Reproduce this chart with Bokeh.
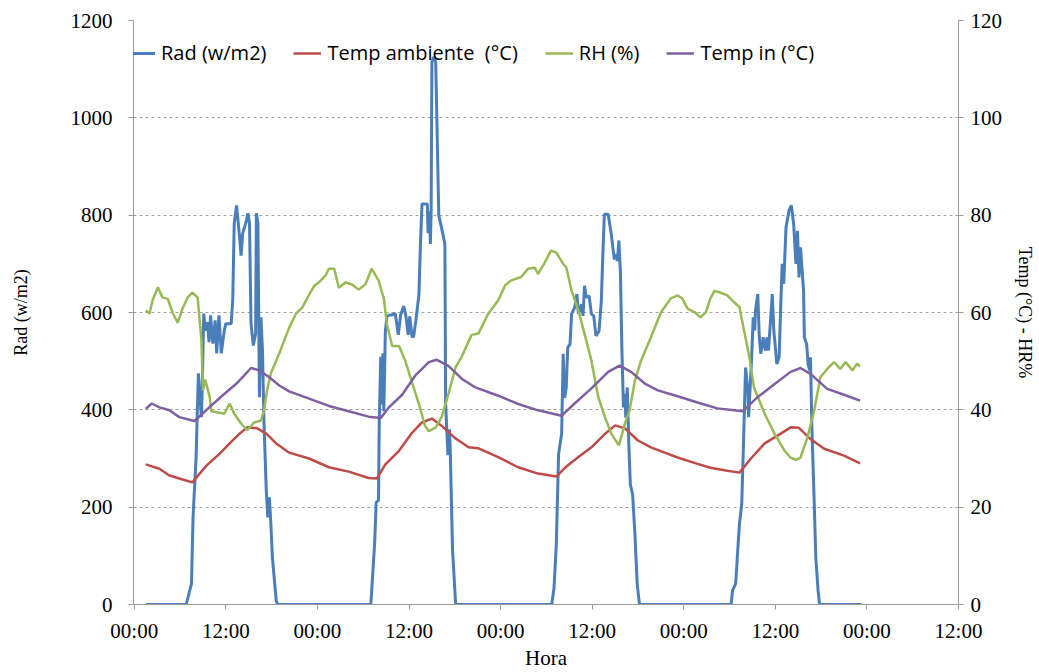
from bokeh.plotting import figure
from bokeh.models import (Range1d, LinearAxis, FixedTicker, Legend, LegendItem,
                          ColumnDataSource)
from bokeh.embed import file_html
from bokeh.resources import INLINE

# ---------------- data (hours from first 00:00) ----------------
rad_h = [1.5, 6.8, 7.5, 7.7, 8.1, 8.4, 8.6, 8.8, 8.9, 9.1, 9.3, 9.6, 9.8, 10.0, 10.3, 10.6, 10.8,
         11.1, 11.4, 11.8, 12.0, 12.7, 12.9, 13.1, 13.4, 13.8, 14.0, 14.2, 14.6, 14.9, 15.1, 15.3,
         15.6, 15.9, 16.0, 16.2, 16.4, 16.6, 16.8, 17.0, 17.3, 17.5, 17.7, 17.9, 18.1, 18.6, 18.8,
         31.0, 31.5, 31.7, 32.0, 32.1, 32.3, 32.4, 32.6, 32.7, 32.9, 33.1, 33.4, 33.8, 34.2, 34.6,
         34.9, 35.3, 35.6, 35.9, 36.1, 36.4, 36.6, 36.9, 37.3, 37.5, 37.7, 38.4, 38.5, 38.7, 38.8,
         38.9, 39.0, 39.2, 39.5, 39.9, 40.3, 40.7, 40.8, 41.1, 41.3, 41.4, 41.7, 42.1, 42.2,
         54.7, 55.0, 55.3, 55.6, 56.0, 56.2, 56.4, 56.6, 56.8, 57.1, 57.3, 57.7, 58.0, 58.2, 58.6,
         58.8, 59.0, 59.2, 59.6, 59.9, 60.2, 60.5, 60.9, 61.2, 61.4, 61.6, 62.1, 62.5, 62.9, 63.1,
         63.3, 63.5, 63.7, 63.9, 64.1, 64.3, 64.4, 64.6, 64.8, 65.0, 65.3, 65.6, 65.9, 66.2,
         78.2, 78.4, 78.8, 79.3, 79.6, 79.8, 80.1, 80.4, 80.5, 80.7, 80.9, 81.1, 81.3, 81.4, 81.7,
         81.9, 82.1, 82.4, 82.7, 82.9, 83.1, 83.4, 83.6, 83.8, 84.2, 84.5, 84.7, 84.9, 85.1, 85.4,
         85.8, 86.1, 86.4, 86.7, 86.9, 87.1, 87.3, 87.7, 87.8, 88.1, 88.3, 88.5, 88.6, 88.8, 89.1,
         89.3, 89.6, 89.8, 95.3]
rad_v = [0, 0, 43, 179, 302, 475, 426, 385, 440, 598, 563, 580, 539, 594, 536, 584, 516,
         594, 516, 563, 577, 577, 625, 783, 820, 755, 717, 762, 783, 804, 783, 577,
         532, 557, 804, 783, 426, 590, 522, 372, 234, 179, 220, 166, 97, 8, 0,
         0, 127, 210, 214, 374, 509, 411, 516, 397, 561, 592, 595, 595, 598, 554,
         595, 613, 592, 554, 592, 550, 550, 584, 636, 741, 823, 823, 763, 808, 741,
         808, 1114, 1125, 1114, 800, 771, 741, 412, 307, 360, 322, 113, 4, 0,
         0, 34, 124, 309, 351, 515, 425, 446, 528, 535, 597, 610, 638, 597, 617,
         593, 655, 631, 634, 597, 593, 552, 562, 624, 720, 802, 802, 761, 709, 720,
         706, 748, 683, 521, 405, 433, 384, 446, 330, 247, 226, 145, 42, 0,
         0, 29, 43, 166, 207, 316, 487, 440, 385, 446, 508, 590, 563, 604, 638,
         549, 515, 549, 522, 549, 522, 590, 638, 563, 494, 508, 611, 700, 659, 775,
         810, 820, 782, 700, 768, 672, 734, 645, 549, 535, 494, 481, 508, 358, 207,
         97, 29, 0, 0]

tamb_h = [1.5, 3.3, 4.6, 5.9, 7.6, 9.5, 11.2, 12.5, 13.8, 14.8, 16.1, 17.3, 18.6, 20.3, 22.9,
          25.5, 28.1, 30.7, 31.8, 32.9, 34.6, 36.3, 37.7, 39.0, 40.3, 42.1, 43.8, 45.1, 47.7,
          50.3, 52.9, 55.3, 56.5, 58.2, 59.9, 61.7, 63.0, 64.3, 66.0, 67.7, 69.5, 71.2, 73.8,
          75.5, 77.7, 79.3, 80.8, 82.6, 84.3, 86.0, 87.1, 88.6, 90.4, 93.0, 95.1]
tamb_v = [28.8, 27.9, 26.5, 25.9, 25.1, 28.6, 31.0, 33.1, 35.1, 36.4, 36.2, 35.1, 33.1, 31.2, 30.0,
          28.2, 27.3, 26.0, 25.9, 28.8, 31.4, 35.1, 37.4, 38.2, 36.7, 34.1, 32.3, 32.1, 30.3,
          28.2, 26.9, 26.3, 28.2, 30.3, 32.3, 35.1, 36.8, 36.2, 33.7, 32.3, 31.2, 30.2, 28.9,
          28.1, 27.5, 27.1, 30.0, 33.1, 34.7, 36.4, 36.3, 34.0, 32.0, 30.6, 29.0]

rh_h = [1.5, 2.0, 2.4, 3.1, 3.7, 4.4, 5.0, 5.7, 6.3, 7.0, 7.6, 8.3, 8.8, 9.0, 9.3, 9.9, 10.1,
        11.2, 11.8, 12.5, 13.1, 14.0, 14.8, 15.7, 16.6, 17.0, 17.4, 17.9, 19.0, 20.3, 21.2, 22.0,
        22.9, 23.6, 24.2, 25.1, 25.5, 26.2, 26.8, 27.7, 28.6, 29.4, 30.3, 31.1, 32.0, 32.7, 33.1,
        33.8, 34.7, 35.5, 36.4, 37.3, 38.1, 38.6, 39.5, 40.3, 41.2, 42.1, 42.9, 44.2, 45.1, 46.4,
        47.7, 48.6, 49.4, 50.7, 51.6, 52.5, 52.9, 53.8, 54.6, 55.3, 56.2, 56.6, 57.3, 58.2, 59.0,
        59.9, 60.8, 61.7, 62.5, 63.5, 64.3, 64.9, 65.6, 66.4, 67.7, 69.0, 70.3, 71.2, 71.8, 72.5,
        73.4, 74.2, 74.9, 75.5, 76.0, 76.8, 77.7, 78.6, 79.3, 79.9, 80.6, 81.2, 82.6, 83.9, 85.2,
        86.0, 86.7, 87.3, 88.2, 89.1, 89.9, 90.8, 91.7, 92.5, 93.2, 94.1, 94.7, 95.1]
rh_v = [60.4, 59.8, 62.5, 65.2, 63.1, 62.8, 60.0, 57.9, 60.7, 63.1, 64.1, 63.1, 54.3, 44.0, 46.2, 42.5, 39.7,
        39.4, 39.2, 41.3, 39.2, 37.2, 35.8, 37.4, 37.8, 39.9, 44.0, 47.5, 51.6, 56.9, 59.8, 61.0,
        63.6, 65.5, 66.2, 67.7, 69.0, 69.0, 65.1, 66.2, 65.7, 64.7, 65.8, 69.0, 66.6, 62.9, 57.6,
        53.1, 53.1, 50.1, 45.6, 41.2, 36.7, 35.6, 36.4, 38.6, 43.5, 48.7, 50.9, 55.4, 55.7, 59.8,
        62.5, 65.6, 66.6, 67.3, 69.0, 69.2, 67.9, 70.3, 72.7, 72.3, 70.0, 69.3, 64.5, 60.4, 55.6,
        50.1, 42.6, 38.4, 35.1, 32.7, 37.2, 39.9, 46.0, 50.1, 54.9, 60.0, 62.9, 63.5, 62.9, 60.8,
        60.1, 59.0, 60.1, 62.9, 64.4, 64.1, 63.5, 62.1, 61.1, 56.3, 50.8, 44.6, 39.2, 35.1, 31.6,
        30.2, 29.7, 30.2, 34.3, 39.9, 46.7, 48.4, 49.8, 48.4, 49.8, 48.1, 49.5, 48.9]

tin_h = [1.5, 2.3, 3.3, 4.6, 5.9, 7.9, 9.9, 11.6, 13.4, 15.3, 16.4, 17.7, 19.0, 20.3, 22.9, 25.5,
         28.1, 30.7, 32.3, 33.3, 35.1, 36.9, 38.6, 39.6, 41.2, 42.9, 44.7, 47.7, 50.3, 52.9, 56.0,
         57.7, 59.9, 62.1, 63.6, 65.1, 66.9, 68.6, 71.2, 73.8, 76.4, 78.6, 79.7, 81.6, 83.9, 86.0,
         87.3, 88.6, 90.8, 93.0, 95.1]
tin_v = [40.2, 41.3, 40.5, 39.9, 38.5, 37.7, 40.6, 43.0, 45.4, 48.6, 48.1, 46.7, 45.0, 43.8, 42.3, 40.8,
         39.7, 38.6, 38.3, 40.4, 43.1, 47.2, 49.8, 50.3, 49.0, 46.4, 44.6, 42.9, 41.2, 39.9, 38.8,
         41.3, 44.4, 47.8, 49.1, 47.8, 45.4, 44.0, 42.8, 41.5, 40.3, 39.9, 39.7, 42.5, 45.3, 47.8,
         48.6, 47.4, 44.3, 43.1, 41.9]

x_ticks = [0, 12, 24, 36, 48, 60, 72, 84, 96, 108]
x_tick_labels = ["00:00", "12:00", "00:00", "12:00", "00:00", "12:00", "00:00", "12:00", "00:00", "12:00"]
left_ticks = [0, 200, 400, 600, 800, 1000, 1200]
right_ticks = [0, 20, 40, 60, 80, 100, 120]
series_names = ["Rad (w/m2)", "Temp ambiente  (°C)", "RH (%)", "Temp in (°C)"]
series_colors = ["#4A7EBB", "#BE4B48", "#98B954", "#7D60A0"]

# ---------------- figure ----------------
W, H = 1039, 672
p = figure(width=W, height=H, output_backend="svg", toolbar_location=None,
           x_range=Range1d(-0.1, 108), y_range=Range1d(0, 1200),
           min_border_left=133, min_border_right=81, min_border_top=20, min_border_bottom=68)
p.extra_y_ranges = {"right": Range1d(0, 120)}
p.outline_line_color = None
p.background_fill_color = "white"
p.border_fill_color = "white"

serif = "Liberation Serif"
axis_col = "#9a9a9a"

# x axis
xa = p.xaxis[0]
xa.ticker = FixedTicker(ticks=x_ticks)
xa.major_label_overrides = {t: l for t, l in zip(x_ticks, x_tick_labels)}
xa.axis_label = "Hora"

# left axis
ya = p.yaxis[0]
ya.ticker = FixedTicker(ticks=left_ticks)
ya.axis_label = "Rad (w/m2)"

# right axis
ra = LinearAxis(y_range_name="right", ticker=FixedTicker(ticks=right_ticks),
                axis_label="Temp (°C) - HR%")
p.add_layout(ra, "right")

for ax in (xa, ya, ra):
    ax.axis_line_color = axis_col
    ax.major_tick_line_color = axis_col
    ax.major_tick_in = 0
    ax.major_tick_out = 5
    ax.minor_tick_line_color = None
    ax.major_label_text_font = serif
    ax.major_label_text_font_size = "21px"
    ax.major_label_text_color = "black"
    ax.axis_label_text_font = serif
    ax.axis_label_text_font_style = "normal"
    ax.axis_label_text_color = "black"
    ax.axis_label_text_font_size = "18px"

xa.major_label_standoff = 9
xa.axis_label_text_font_size = "21px"
xa.axis_label_standoff = 0
ya.major_label_standoff = 16
ya.axis_label_standoff = 37
ra.major_label_standoff = 7
ra.axis_label_standoff = 10

p.xgrid.grid_line_color = None
p.ygrid.ticker = FixedTicker(ticks=left_ticks)
p.ygrid.grid_line_color = "#a0a0a0"
p.ygrid.grid_line_dash = "3 3"
p.ygrid.grid_line_width = 1

# ---------------- lines ----------------
r_rad = p.line(x="h", y="v", source=ColumnDataSource(dict(h=rad_h, v=rad_v)),
               line_color=series_colors[0], line_width=3)
r_tamb = p.line(x="h", y="v", source=ColumnDataSource(dict(h=tamb_h, v=tamb_v)),
                line_color=series_colors[1], line_width=2.5, y_range_name="right")
r_rh = p.line(x="h", y="v", source=ColumnDataSource(dict(h=rh_h, v=rh_v)),
              line_color=series_colors[2], line_width=2.5, y_range_name="right")
r_tin = p.line(x="h", y="v", source=ColumnDataSource(dict(h=tin_h, v=tin_v)),
               line_color=series_colors[3], line_width=2.5, y_range_name="right")

legend = Legend(items=[LegendItem(label=n, renderers=[r]) for n, r in
                       zip(series_names, [r_rad, r_tamb, r_rh, r_tin])],
                orientation="horizontal", location=(-6, 538),
                label_text_font="Open Sans", label_text_font_size="20px",
                label_text_color="black", glyph_width=28, glyph_height=20,
                label_height=20, label_standoff=6, spacing=27, padding=0, margin=0,
                border_line_color=None, background_fill_alpha=0)
p.add_layout(legend)

open("out.html", "w").write(file_html(p, INLINE))
